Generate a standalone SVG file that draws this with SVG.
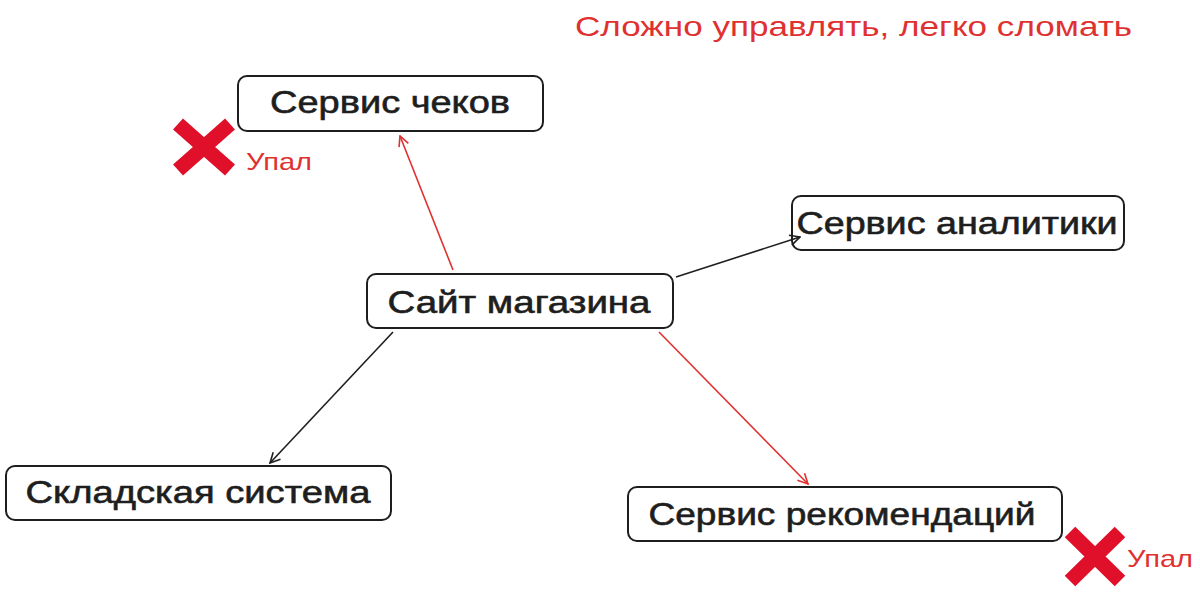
<svg xmlns="http://www.w3.org/2000/svg" width="1200" height="601" viewBox="0 0 1200 601">
<defs>
<style>
.box{fill:#fff;stroke:#1e1e1e;stroke-width:2}
.lbl{font-family:"Liberation Sans",Arial,sans-serif;font-size:31px;fill:#1e1e1e;stroke:#1e1e1e;stroke-width:0.6;text-anchor:middle}
.red{font-family:"Liberation Sans",Arial,sans-serif;fill:#e03131}
.cb{stroke:#1e1e1e;stroke-width:1.6;fill:none}
.cr{stroke:#e03131;stroke-width:1.6;fill:none}
.x{stroke:#e0102a;stroke-width:15;stroke-linecap:butt}
</style>
<marker id="ab" viewBox="0 0 12 12" refX="11" refY="6" markerWidth="12" markerHeight="12" markerUnits="userSpaceOnUse" orient="auto"><path d="M1,1 L11,6 L1,11" fill="none" stroke="#1e1e1e" stroke-width="1.6"/></marker>
<marker id="ar" viewBox="0 0 12 12" refX="11" refY="6" markerWidth="12" markerHeight="12" markerUnits="userSpaceOnUse" orient="auto"><path d="M1,1 L11,6 L1,11" fill="none" stroke="#e03131" stroke-width="1.6"/></marker>
</defs>
<rect width="1200" height="601" fill="#fff"/>
<text class="red" x="575" y="36" font-size="28" textLength="557" lengthAdjust="spacingAndGlyphs">Сложно управлять, легко сломать</text>
<g id="n-checks">
<rect class="box" x="238" y="76" width="305" height="55" rx="9"/>
<text class="lbl" x="390" y="113" textLength="240" lengthAdjust="spacingAndGlyphs">Сервис чеков</text>
</g>
<g id="n-site">
<rect class="box" x="367" y="274" width="306" height="54" rx="9"/>
<text class="lbl" x="519" y="313" textLength="263" lengthAdjust="spacingAndGlyphs">Сайт магазина</text>
</g>
<g id="n-analytics">
<rect class="box" x="792" y="196" width="332" height="54" rx="9"/>
<text class="lbl" x="957" y="234" textLength="321" lengthAdjust="spacingAndGlyphs">Сервис аналитики</text>
</g>
<g id="n-warehouse">
<rect class="box" x="6" y="466" width="385" height="54" rx="9"/>
<text class="lbl" x="198" y="503" textLength="345" lengthAdjust="spacingAndGlyphs">Складская система</text>
</g>
<g id="n-reco">
<rect class="box" x="628" y="487" width="434" height="54" rx="9"/>
<text class="lbl" x="842" y="525" textLength="387" lengthAdjust="spacingAndGlyphs">Сервис рекомендаций</text>
</g>
<g id="connectors">
<path class="cr" d="M453,270 L400,136" marker-end="url(#ar)"/>
<path class="cb" d="M676,277 L800,237" marker-end="url(#ab)"/>
<path class="cb" d="M393,332 L270,463" marker-end="url(#ab)"/>
<path class="cr" d="M659,332 L808,484" marker-end="url(#ar)"/>
</g>
<g id="fail1">
<path class="x" d="M178,124 L230,170 M230,124 L178,170"/>
<text class="red" x="246" y="170" font-size="24" textLength="66" lengthAdjust="spacingAndGlyphs">Упал</text>
</g>
<g id="fail2">
<path class="x" d="M1070,532 L1120,581 M1120,532 L1070,581"/>
<text class="red" x="1127" y="567" font-size="24" textLength="66" lengthAdjust="spacingAndGlyphs">Упал</text>
</g>
</svg>
